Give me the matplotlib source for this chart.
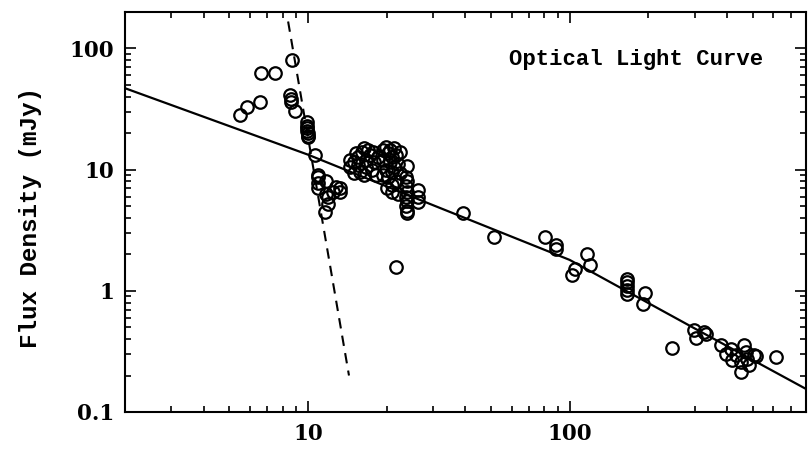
import matplotlib
matplotlib.use("Agg")
import matplotlib.pyplot as plt
from matplotlib.ticker import LogLocator, NullFormatter, FixedLocator, FixedFormatter

# ---- data ----
early_t = [5.5, 5.85, 6.55, 6.6, 7.5, 8.7, 8.55, 8.6, 8.65, 8.9]
early_f = [28.5, 33, 36.5, 63, 63, 80, 41.7, 38.6, 36.5, 30.7]

col10_t = [9.9, 9.9, 9.95, 9.95, 10.0, 10.0, 10.0]
col10_f = [24.5, 23.0, 22.0, 21.0, 20.0, 19.1, 18.5]

dip_t = [10.6, 10.9, 10.9, 11.7, 12.8, 10.9, 11.7, 11.9, 11.9, 11.6, 13.3, 13.3, 12.5, 10.9]
dip_f = [13.3, 8.75, 7.7, 8.0, 7.2, 7.0, 6.3, 5.25, 6.0, 4.5, 7.0, 6.6, 6.5, 9.1]

clA_t = [14.5, 14.5, 15.0, 15.3, 15.6, 15.8, 16.1, 16.4, 16.7, 16.7,
         17.0, 17.3, 17.6, 17.8, 17.9, 18.2, 18.5, 15.0, 15.6, 16.4]
clA_f = [10.6, 12.1, 11.6, 13.6, 12.8, 9.6, 14.1, 15.0, 12.1, 10.6,
         14.6, 13.2, 10.0, 14.1, 11.6, 9.0, 12.8, 9.3, 11.0, 9.0]

clB_t = [19.4, 19.4, 19.9, 19.9, 20.3, 20.3, 20.6, 20.6, 21.0, 21.0, 21.0,
         21.4, 21.4, 21.7, 21.7, 22.1, 22.1, 22.5, 22.5, 20.0, 21.0, 19.4]
clB_f = [14.6, 12.1, 10.0, 15.5, 13.6, 8.75, 11.6, 14.6, 9.6, 12.8, 7.5,
         15.0, 10.6, 13.2, 8.0, 11.2, 6.3, 14.1, 9.3, 7.0, 6.6, 9.0]

colC_t = [23.9, 23.7, 24.0, 23.8, 24.0, 23.8, 24.0, 23.8, 24.0, 23.9, 26.4, 26.4, 26.4]
colC_f = [10.8, 8.75, 8.0, 7.3, 6.6, 6.0, 5.5, 5.0, 4.6, 4.35, 6.8, 6.0, 5.4]

late_t = [21.7, 39.3, 51.2, 80.2, 88.3, 88.3, 116, 120, 105, 102,
          165, 165, 165, 165, 165, 194, 190, 246, 299, 305, 326, 332, 379,
          396, 414, 418, 433, 452, 452, 464, 473, 478, 485, 505, 516, 615]
late_f = [1.58, 4.4, 2.79, 2.79, 2.4, 2.22, 2.02, 1.64, 1.52, 1.36,
          1.26, 1.18, 1.10, 1.02, 0.95, 0.96, 0.78, 0.338, 0.476, 0.41, 0.458, 0.44, 0.358,
          0.30, 0.33, 0.27, 0.296, 0.259, 0.214, 0.358, 0.313, 0.274, 0.245, 0.296, 0.29, 0.285]

# power-law fit curve (solid) and early steep decay (dashed)
fit_t = [2, 10, 30, 100, 300, 800]
fit_f = [47, 13.3, 5.1, 1.8, 0.49, 0.155]
steep_t = [8.4, 14.35]
steep_f = [167, 0.2]

all_t = early_t + col10_t + dip_t + clA_t + clB_t + colC_t + late_t
all_f = early_f + col10_f + dip_f + clA_f + clB_f + colC_f + late_f

# ---- figure ----
fig = plt.figure(figsize=(8.12, 4.55), dpi=100)
ax = fig.add_axes([125/812, 1 - 412/455, (806 - 125)/812, (412 - 12)/455])
ax.set_xscale("log")
ax.set_yscale("log")
ax.set_xlim(2, 800)
ax.set_ylim(0.1, 200)

ax.plot(fit_t, fit_f, color="black", lw=1.6, zorder=2)
ax.plot(steep_t, steep_f, color="black", lw=1.5, dashes=(5, 3.5), zorder=2)
ax.plot(all_t, all_f, linestyle="none", marker="o", ms=9, mfc="none",
        mec="black", mew=1.6, zorder=3)

for s in ax.spines.values():
    s.set_linewidth(1.5)

ax.xaxis.set_major_locator(FixedLocator([10, 100]))
ax.xaxis.set_major_formatter(FixedFormatter(["10", "100"]))
ax.xaxis.set_minor_locator(LogLocator(base=10, subs=range(2, 10)))
ax.xaxis.set_minor_formatter(NullFormatter())
ax.yaxis.set_major_locator(FixedLocator([0.1, 1, 10, 100]))
ax.yaxis.set_major_formatter(FixedFormatter(["0.1", "1", "10", "100"]))
ax.yaxis.set_minor_locator(LogLocator(base=10, subs=range(2, 10)))
ax.yaxis.set_minor_formatter(NullFormatter())

ax.tick_params(which="both", direction="in", top=True, right=True, width=1.2)
ax.tick_params(which="major", length=8)
ax.tick_params(which="minor", length=4)
ax.tick_params(axis="x", which="major", pad=8)
ax.tick_params(axis="y", which="major", pad=8)
for lab in ax.get_xticklabels() + ax.get_yticklabels():
    lab.set_fontfamily("DejaVu Serif")
    lab.set_fontweight("bold")
    lab.set_fontsize(15.5)

ax.set_ylabel("Flux Density (mJy)", family="Liberation Mono", weight="bold",
              fontsize=17.5)
ax.yaxis.set_label_coords(-0.122, 0.485)
ax.text(0.937, 0.88, "Optical Light Curve", transform=ax.transAxes,
        family="Liberation Mono", weight="bold", fontsize=16,
        ha="right", va="center")

fig.savefig("out.png", dpi=100)
